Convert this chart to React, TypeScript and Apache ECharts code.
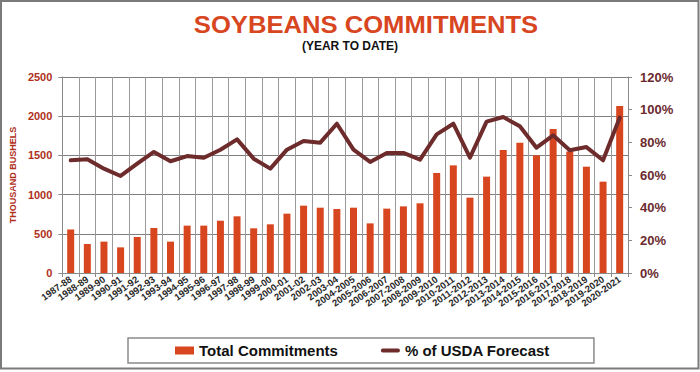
import React, { useEffect, useRef } from "react";
import * as echarts from "echarts";

const categories = [
  "1987-88", "1988-89", "1989-90", "1990-91", "1991-92", "1992-93", "1993-94",
  "1994-95", "1995-96", "1996-97", "1997-98", "1998-99", "1999-00", "2000-01",
  "2001-02", "2002-03", "2003-04", "2004-2005", "2005-2006", "2006-2007",
  "2007-2008", "2008-2009", "2009-2010", "2010-2011", "2011-2012", "2012-2013",
  "2013-2014", "2014-2015", "2015-2016", "2016-2017", "2017-2018", "2018-2019",
  "2019-2020", "2020-2021",
];

const totalCommitments = [
  555, 370, 400, 327, 459, 574, 400, 604, 604, 667, 723, 570, 621, 757, 859, 833,
  816, 833, 633, 821, 850, 889, 1276, 1373, 961, 1229, 1569, 1662, 1501, 1837,
  1550, 1356, 1165, 2130,
];

const pctOfUsda = [
  69.0, 69.6, 63.9, 59.4, 66.9, 74.1, 68.4, 71.6, 70.6, 75.5, 81.8, 70.0, 63.9,
  75.5, 80.8, 79.8, 91.4, 75.5, 68.0, 73.5, 73.5, 69.4, 84.9, 91.4, 70.6, 92.7,
  95.5, 89.8, 76.7, 84.3, 75.1, 77.1, 69.0, 95.1,
];

const FONT = "'Liberation Sans', Arial, Helvetica, sans-serif";
const LINE_ICON = "path://M2,0 L18,0 A2,2 0 0 1 18,4 L2,4 A2,2 0 0 1 2,0 Z";

export default function App() {
  const ref = useRef<HTMLDivElement>(null);

  useEffect(() => {
    if (!ref.current) return;
    const chart = echarts.init(ref.current, undefined, { renderer: "svg" });
    chart.setOption({
      animation: false,
      backgroundColor: "#ffffff",
      textStyle: { fontFamily: FONT },
      graphic: [
        {
          type: "rect",
          shape: { x: 1, y: 1, width: 697.5, height: 367.5 },
          style: { fill: "none", stroke: "#7a7a7a", lineWidth: 2 },
          silent: true,
        },
        {
          type: "text",
          x: 366,
          y: 25,
          scaleX: 1.09,
          style: {
            text: "SOYBEANS COMMITMENTS",
            fill: "#d8461f",
            font: `bold 23.5px ${FONT}`,
            textAlign: "center",
            textVerticalAlign: "middle",
          },
        },
        {
          type: "text",
          x: 350,
          y: 45.5,
          style: {
            text: "(YEAR TO DATE)",
            fill: "#111111",
            font: `bold 12px ${FONT}`,
            textAlign: "center",
            textVerticalAlign: "middle",
          },
        },
      ],
      legend: {
        left: 128,
        top: 338,
        padding: [5, 44, 5, 47],
        itemGap: 43,
        itemWidth: 19,
        itemHeight: 8,
        borderColor: "#8a8a8a",
        borderWidth: 1.5,
        textStyle: { fontFamily: FONT, fontSize: 15, fontWeight: "bold", color: "#111" },
        data: [
          { name: "Total Commitments", icon: "rect" },
          { name: "% of USDA Forecast", icon: LINE_ICON, itemStyle: { color: "#6e2b2b" } },
        ],
      },
      grid: { left: 56, right: 72, top: 77, bottom: 99, containLabel: false },
      xAxis: {
        type: "category",
        data: categories,
        boundaryGap: true,
        axisLine: { lineStyle: { color: "#8a8a8a", width: 1 } },
        axisTick: { show: true, length: 4, lineStyle: { color: "#8a8a8a" } },
        splitLine: { show: true, lineStyle: { color: "#9a9a9a", width: 1 } },
        axisLabel: {
          interval: 0,
          rotate: 35,
          margin: 5,
          fontSize: 9.5,
          fontWeight: "bold",
          color: "#2a2a2a",
          fontFamily: FONT,
        },
      },
      yAxis: [
        {
          type: "value",
          min: 0,
          max: 2500,
          interval: 500,
          name: "THOUSAND BUSHELS",
          nameLocation: "middle",
          nameRotate: 90,
          nameGap: 38,
          nameTextStyle: { fontSize: 9, fontWeight: "bold", color: "#b0301c", fontFamily: FONT },
          axisLine: { show: true, lineStyle: { color: "#8a8a8a" } },
          axisTick: { show: true, length: 4, lineStyle: { color: "#8a8a8a" } },
          splitLine: { show: true, lineStyle: { color: "#7f7f7f", width: 1 } },
          axisLabel: {
            formatter: (v: number) => String(v),
            margin: 10,
            fontSize: 11,
            fontWeight: "bold",
            color: "#b0301c",
            fontFamily: FONT,
          },
        },
        {
          type: "value",
          min: 0,
          max: 120,
          interval: 20,
          position: "right",
          axisLine: { show: true, lineStyle: { color: "#8a8a8a" } },
          axisTick: { show: true, length: 4, lineStyle: { color: "#8a8a8a" } },
          splitLine: { show: false },
          axisLabel: {
            formatter: "{value}%",
            margin: 12,
            fontSize: 13,
            fontWeight: "bold",
            color: "#6b2a2e",
            fontFamily: FONT,
          },
        },
      ],
      series: [
        {
          name: "Total Commitments",
          type: "bar",
          data: totalCommitments,
          barWidth: 7,
          itemStyle: { color: "#d8461f" },
          z: 2,
        },
        {
          name: "% of USDA Forecast",
          type: "line",
          yAxisIndex: 1,
          data: pctOfUsda,
          symbol: "none",
          showSymbol: false,
          lineStyle: { color: "#6e2b2b", width: 4, cap: "round", join: "round" },
          itemStyle: { color: "#6e2b2b" },
          z: 3,
        },
      ],
    });
    return () => chart.dispose();
  }, []);

  return (
    <div
      ref={ref}
      style={{ position: "fixed", left: 0, top: 0, width: 700, height: 372, background: "#fff" }}
    />
  );
}
